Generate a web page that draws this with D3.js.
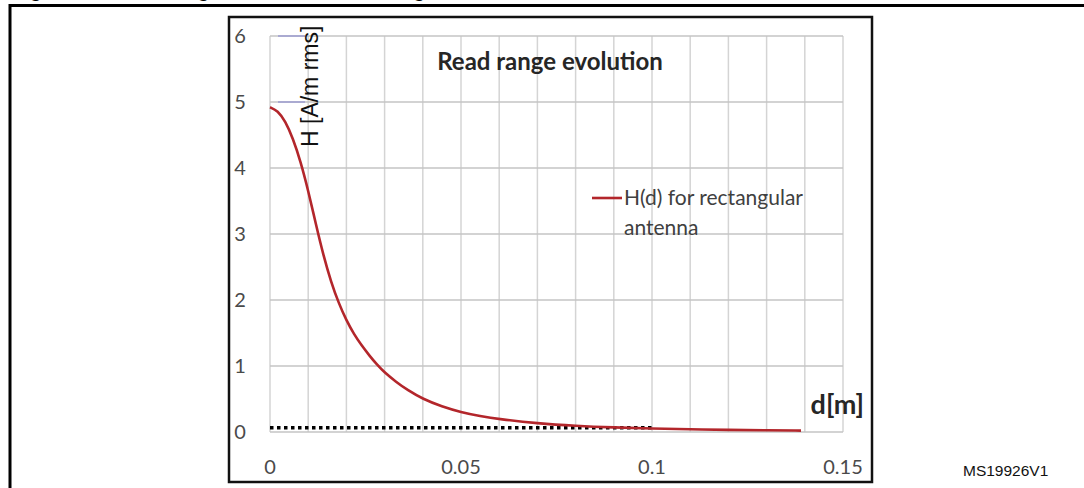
<!DOCTYPE html>
<html><head><meta charset="utf-8">
<script src="https://cdn.jsdelivr.net/npm/d3@7"></script>
<style>body{margin:0;background:#fff}svg{display:block}</style>
</head><body>
<svg id="c" width="1084" height="488"></svg>
<script>
const distance = [0,0.002,0.004,0.006,0.008,0.010,0.012,0.014,0.016,0.018,0.020,0.022,0.024,0.026,0.028,0.030,0.033,0.036,0.040,0.045,0.050,0.055,0.060,0.070,0.080,0.090,0.100,0.110,0.120,0.130,0.139];
const field = [4.92,4.87,4.71,4.45,4.10,3.66,3.15,2.67,2.27,1.95,1.69,1.48,1.31,1.16,1.02,0.90,0.76,0.635,0.50,0.385,0.30,0.24,0.195,0.13,0.092,0.068,0.052,0.041,0.032,0.026,0.021];
const thresholdD = [0, 0.1];
const thresholdH = [0.065, 0.065];
const xTicks = [0, 0.05, 0.1, 0.15];
const xTickLabels = ["0", "0.05", "0.1", "0.15"];
const yTicks = [0,1,2,3,4,5,6];
const xGrid = d3.range(0, 16).map(i => i/100);

const svg = d3.select("#c");
const x = d3.scaleLinear().domain([0,0.15]).range([270,843]);
const y = d3.scaleLinear().domain([0,6]).range([432,36]);
const font = "Lato, 'Open Sans', sans-serif";

// page heading (cut off at top, only descenders visible)
svg.append("text").attr("x",12).attr("y",-3).attr("font-family","Liberation Sans, Arial").attr("font-weight","bold").attr("font-size",20).attr("fill","#000").text("Figure 21. Read range evolution for rectangular antenna");

// outer frame
svg.append("line").attr("x1",9).attr("x2",1084).attr("y1",5.5).attr("y2",5.5).attr("stroke","#000").attr("stroke-width",3);
svg.append("line").attr("x1",10).attr("x2",10).attr("y1",4).attr("y2",488).attr("stroke","#000").attr("stroke-width",3);

// chart box
svg.append("rect").attr("x",229).attr("y",17).attr("width",643).attr("height",465).attr("fill","#fff").attr("stroke","#111").attr("stroke-width",2.5);

// grid
const g = svg.append("g");
g.selectAll("line.v").data(xGrid).join("line").attr("class","v")
  .attr("x1",d=>x(d)).attr("x2",d=>x(d)).attr("y1",y(6)).attr("y2",y(0))
  .attr("stroke","#d4d4d4").attr("stroke-width",1.5);
g.selectAll("line.h").data(yTicks).join("line").attr("class","h")
  .attr("x1",x(0)).attr("x2",x(0.15)).attr("y1",d=>y(d)).attr("y2",d=>y(d))
  .attr("stroke","#c4c4c4").attr("stroke-width",1.5);
// bluish artifacts near axis label
[5,6].forEach(v=>g.append("line").attr("x1",x(0)+8).attr("x2",x(0)+35).attr("y1",y(v)).attr("y2",y(v)).attr("stroke","#8f8fd0").attr("stroke-width",1.2));

// y tick labels
svg.selectAll("text.yt").data(yTicks).join("text").attr("class","yt")
  .attr("x",240).attr("y",d=>y(d)).attr("dy","0.36em").attr("text-anchor","middle")
  .attr("font-family",font).attr("font-size",20).attr("fill","#4a4a4a")
  .text(d=>d);
// x tick labels
svg.selectAll("text.xt").data(xTicks).join("text").attr("class","xt")
  .attr("x",d=>x(d)).attr("y",474).attr("text-anchor","middle")
  .attr("font-family",font).attr("font-size",20).attr("fill","#4a4a4a")
  .text((d,i)=>xTickLabels[i]);

// threshold dotted line
svg.append("path").attr("d",d3.line().x(d=>x(d[0])).y(d=>y(d[1]))(thresholdD.map((d,i)=>[d,thresholdH[i]])))
  .attr("fill","none").attr("stroke","#000").attr("stroke-width",3.5).attr("stroke-dasharray","3.5,3.5");

// curve
svg.append("path").datum(distance.map((d,i)=>[d,field[i]]))
  .attr("d",d3.line().x(d=>x(d[0])).y(d=>y(d[1])).curve(d3.curveBasis))
  .attr("fill","none").attr("stroke","#b3262b").attr("stroke-width",2.6);

// title
svg.append("text").attr("x",550).attr("y",70).attr("text-anchor","middle")
  .attr("font-family",font).attr("font-weight","bold").attr("font-size",24).attr("fill","#262626")
  .text("Read range evolution");

// legend
svg.append("line").attr("x1",592).attr("x2",622).attr("y1",198).attr("y2",198).attr("stroke","#b3262b").attr("stroke-width",2.6);
svg.append("text").attr("x",624).attr("y",205).attr("font-family",font).attr("font-size",21).attr("fill","#404040").text("H(d) for rectangular");
svg.append("text").attr("x",624).attr("y",235).attr("font-family",font).attr("font-size",21).attr("fill","#404040").text("antenna");

// axis titles
svg.append("text").attr("x",864).attr("y",414).attr("text-anchor","end")
  .attr("font-family",font).attr("font-weight","bold").attr("font-size",27).attr("fill","#262626").text("d[m]");
svg.append("text").attr("transform","translate(318,147) rotate(-90)")
  .attr("font-family","Liberation Sans, Arial, sans-serif").attr("font-size",23).attr("fill","#111").text("H [A/m rms]");

// figure id
svg.append("text").attr("x",963).attr("y",476).attr("font-family","Liberation Sans, Arial, sans-serif").attr("font-size",15.5).attr("fill","#111").text("MS19926V1");
</script>
</body></html>
